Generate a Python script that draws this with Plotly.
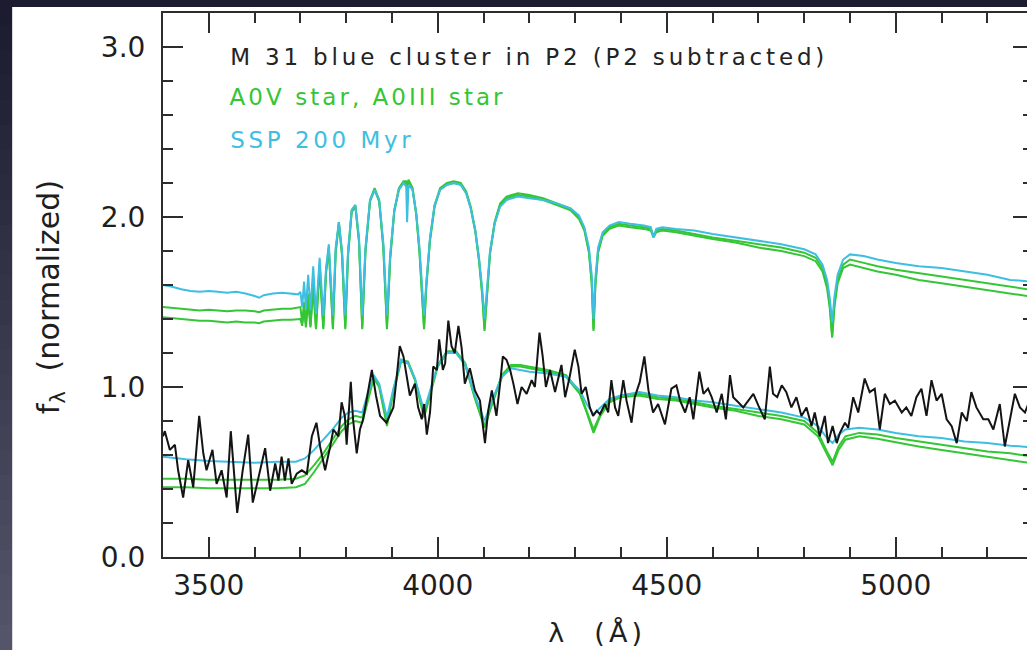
import plotly.graph_objects as go

# ---------------- data ----------------
# Model spectra, upper (offset) set: wavelength grid in Angstrom
top_wave = [3400, 3420, 3440, 3460, 3480, 3500, 3520, 3540, 3560, 3580, 3600, 3610, 3620, 3640, 3660,
            3680, 3695, 3700, 3704, 3708, 3712, 3717, 3722, 3728, 3734, 3742, 3750, 3756, 3762, 3771,
            3777, 3784, 3791, 3798, 3804, 3812, 3820, 3828, 3835, 3842, 3852, 3862, 3872, 3881, 3889,
            3896, 3905, 3915, 3925, 3931, 3933, 3936, 3945, 3953, 3960, 3966, 3970, 3975, 3983, 3993,
            4005, 4020, 4035, 4050, 4062, 4072, 4082, 4090, 4097, 4102, 4107, 4114, 4124, 4136, 4150,
            4175, 4200, 4230, 4260, 4290, 4308, 4320, 4330, 4336, 4340, 4344, 4350, 4360, 4375, 4395,
            4420, 4450, 4465, 4471, 4477, 4490, 4520, 4560, 4600, 4650, 4700, 4750, 4800, 4825, 4840,
            4850, 4856, 4861, 4866, 4873, 4885, 4900, 4930, 4960, 5000, 5050, 5100, 5150, 5200, 5250,
            5300]
top_ssp = [1.60, 1.59, 1.575, 1.565, 1.56, 1.565, 1.56, 1.555, 1.56, 1.55, 1.535, 1.525, 1.54, 1.55, 1.555,
           1.55, 1.545, 1.56, 1.47, 1.62, 1.46, 1.66, 1.45, 1.71, 1.43, 1.76, 1.42, 1.70, 1.84, 1.42,
           1.82, 1.97, 1.80, 1.42, 1.80, 2.04, 2.07, 1.88, 1.42, 1.82, 2.10, 2.16, 2.10, 1.85, 1.42,
           1.78, 2.04, 2.16, 2.20, 2.18, 1.97, 2.19, 2.16, 2.02, 1.82, 1.58, 1.42, 1.62, 1.88, 2.07,
           2.16, 2.19, 2.20, 2.19, 2.14, 2.05, 1.92, 1.76, 1.58, 1.40, 1.58, 1.80, 1.96, 2.06, 2.10,
           2.12, 2.11, 2.10, 2.08, 2.05, 2.01, 1.94, 1.82, 1.66, 1.40, 1.64, 1.82, 1.91, 1.95, 1.97,
           1.96, 1.95, 1.94, 1.88, 1.93, 1.94, 1.93, 1.92, 1.90, 1.88, 1.86, 1.84, 1.81, 1.78, 1.72,
           1.63, 1.52, 1.38, 1.53, 1.66, 1.75, 1.78, 1.77, 1.75, 1.73, 1.71, 1.70, 1.68, 1.66, 1.63,
           1.62]
top_a0v = [1.47, 1.465, 1.46, 1.455, 1.45, 1.455, 1.45, 1.445, 1.45, 1.45, 1.445, 1.44, 1.45, 1.455, 1.46,
           1.46, 1.465, 1.47, 1.38, 1.50, 1.37, 1.55, 1.36, 1.62, 1.35, 1.72, 1.35, 1.68, 1.82, 1.35,
           1.80, 1.97, 1.78, 1.35, 1.78, 2.04, 2.07, 1.86, 1.35, 1.80, 2.10, 2.17, 2.10, 1.83, 1.35,
           1.76, 2.04, 2.17, 2.21, 2.21, 2.17, 2.22, 2.17, 2.02, 1.80, 1.55, 1.35, 1.60, 1.87, 2.07,
           2.17, 2.20, 2.21, 2.20, 2.15, 2.06, 1.92, 1.75, 1.55, 1.34, 1.55, 1.79, 1.97, 2.08, 2.12,
           2.14, 2.13, 2.11, 2.08, 2.05, 2.00, 1.93, 1.80, 1.62, 1.34, 1.60, 1.80, 1.90, 1.94, 1.96,
           1.95, 1.94, 1.93, 1.89, 1.92, 1.93, 1.92, 1.90, 1.88, 1.86, 1.84, 1.82, 1.79, 1.76, 1.70,
           1.60, 1.48, 1.30, 1.49, 1.63, 1.72, 1.75, 1.73, 1.71, 1.69, 1.67, 1.65, 1.63, 1.61, 1.59,
           1.57]
top_a0iii = [1.41, 1.405, 1.40, 1.395, 1.39, 1.39, 1.385, 1.38, 1.385, 1.38, 1.38, 1.375, 1.385, 1.39, 1.395,
             1.395, 1.40, 1.40, 1.36, 1.46, 1.35, 1.50, 1.35, 1.58, 1.34, 1.70, 1.34, 1.67, 1.81, 1.34,
             1.79, 1.96, 1.77, 1.34, 1.77, 2.03, 2.06, 1.85, 1.34, 1.79, 2.09, 2.16, 2.09, 1.82, 1.34,
             1.75, 2.03, 2.16, 2.20, 2.20, 2.16, 2.21, 2.16, 2.01, 1.79, 1.54, 1.34, 1.59, 1.86, 2.06,
             2.16, 2.19, 2.20, 2.19, 2.14, 2.05, 1.91, 1.74, 1.54, 1.33, 1.54, 1.78, 1.96, 2.07, 2.11,
             2.13, 2.12, 2.10, 2.07, 2.04, 1.99, 1.92, 1.79, 1.61, 1.33, 1.59, 1.79, 1.89, 1.93, 1.95,
             1.94, 1.93, 1.92, 1.88, 1.91, 1.92, 1.91, 1.89, 1.87, 1.85, 1.82, 1.80, 1.77, 1.74, 1.68,
             1.58, 1.46, 1.29, 1.47, 1.61, 1.70, 1.72, 1.70, 1.68, 1.66, 1.63, 1.61, 1.59, 1.57, 1.55,
             1.53]

# Model spectra degraded to the cluster resolution (lower set)
low_wave = [3400, 3450, 3500, 3550, 3600, 3650, 3690, 3710, 3730, 3750, 3770, 3790, 3805, 3820, 3835,
            3848, 3860, 3872, 3889, 3903, 3920, 3935, 3950, 3970, 3985, 4000, 4020, 4040, 4060, 4080,
            4102, 4120, 4140, 4160, 4180, 4200, 4240, 4280, 4310, 4325, 4340, 4355, 4375, 4400, 4440,
            4480, 4520, 4560, 4600, 4650, 4700, 4750, 4800, 4830, 4850, 4862, 4875, 4890, 4920, 4960,
            5000, 5050, 5100, 5150, 5200, 5250, 5300]
low_ssp = [0.59, 0.575, 0.565, 0.56, 0.555, 0.56, 0.56, 0.58, 0.63, 0.69, 0.75, 0.82, 0.85, 0.86, 0.85,
           0.97, 1.07, 1.02, 0.82, 0.99, 1.16, 1.14, 1.05, 0.86, 0.99, 1.13, 1.20, 1.20, 1.13, 0.96,
           0.80, 0.93, 1.06, 1.11, 1.10, 1.09, 1.08, 1.06, 0.98, 0.90, 0.84, 0.88, 0.93, 0.95, 0.97,
           0.95, 0.94, 0.92, 0.91, 0.89, 0.87, 0.85, 0.82, 0.77, 0.70, 0.67, 0.72, 0.75, 0.76, 0.75,
           0.73, 0.71, 0.70, 0.68, 0.67, 0.655, 0.645]
low_a0v = [0.46, 0.46, 0.455, 0.455, 0.455, 0.455, 0.46, 0.48, 0.54, 0.61, 0.69, 0.77, 0.81, 0.83, 0.82,
           0.95, 1.06, 1.01, 0.79, 0.98, 1.16, 1.15, 1.05, 0.84, 0.98, 1.13, 1.21, 1.21, 1.14, 0.95,
           0.77, 0.92, 1.07, 1.13, 1.13, 1.12, 1.10, 1.07, 0.97, 0.86, 0.75, 0.84, 0.92, 0.95, 0.96,
           0.94, 0.93, 0.91, 0.89, 0.87, 0.85, 0.83, 0.80, 0.73, 0.62, 0.56, 0.65, 0.71, 0.73, 0.72,
           0.70, 0.68, 0.66, 0.64, 0.62, 0.61, 0.59]
low_a0iii = [0.41, 0.41, 0.405, 0.405, 0.405, 0.405, 0.41, 0.43, 0.50, 0.58, 0.66, 0.74, 0.78, 0.80, 0.79,
             0.93, 1.05, 1.00, 0.77, 0.97, 1.15, 1.14, 1.04, 0.82, 0.97, 1.12, 1.20, 1.20, 1.13, 0.94,
             0.76, 0.91, 1.06, 1.12, 1.12, 1.11, 1.09, 1.06, 0.96, 0.85, 0.73, 0.83, 0.91, 0.94, 0.95,
             0.93, 0.92, 0.90, 0.88, 0.86, 0.83, 0.81, 0.78, 0.71, 0.60, 0.54, 0.63, 0.69, 0.71, 0.695,
             0.675, 0.65, 0.63, 0.61, 0.59, 0.57, 0.55]

# Observed cluster spectrum (P2 subtracted)
cluster_wave = [3400, 3404, 3415, 3426, 3433, 3444, 3455, 3466, 3479, 3488, 3495, 3508, 3517, 3528, 3539,
                3548, 3557, 3562, 3574, 3586, 3596, 3608, 3623, 3634, 3645, 3652, 3659, 3666, 3674, 3681,
                3692, 3703, 3714, 3725, 3735, 3743, 3754, 3765, 3772, 3783, 3790, 3797, 3801, 3810, 3815,
                3823, 3830, 3837, 3848, 3856, 3865, 3874, 3888, 3903, 3910, 3917, 3925, 3932, 3939, 3950,
                3957, 3965, 3970, 3976, 3983, 3990, 3998, 4003, 4011, 4016, 4023, 4030, 4037, 4045, 4052,
                4059, 4070, 4081, 4092, 4103, 4110, 4118, 4128, 4136, 4142, 4150, 4158, 4165, 4174, 4183,
                4194, 4205, 4212, 4222, 4229, 4236, 4245, 4256, 4270, 4278, 4288, 4299, 4307, 4314, 4323,
                4332, 4339, 4347, 4354, 4365, 4372, 4379, 4387, 4394, 4405, 4412, 4423, 4430, 4441, 4451,
                4460, 4470, 4481, 4496, 4510, 4521, 4529, 4540, 4550, 4558, 4571, 4580, 4590, 4598, 4609,
                4620, 4629, 4638, 4645, 4656, 4667, 4678, 4689, 4700, 4714, 4725, 4732, 4741, 4751, 4761,
                4772, 4783, 4794, 4805, 4816, 4823, 4834, 4845, 4852, 4862, 4871, 4878, 4889, 4896, 4907,
                4918, 4932, 4943, 4954, 4965, 4976, 4987, 4998, 5013, 5023, 5034, 5045, 5056, 5067, 5078,
                5089, 5100, 5111, 5122, 5133, 5144, 5155, 5165, 5176, 5191, 5202, 5213, 5227, 5238, 5249,
                5260, 5271, 5282, 5292]
cluster_flux = [0.71, 0.74, 0.63, 0.66, 0.51, 0.35, 0.57, 0.41, 0.83, 0.61, 0.51, 0.63, 0.43, 0.51, 0.35,
                0.74, 0.43, 0.26, 0.51, 0.72, 0.32, 0.47, 0.64, 0.39, 0.55, 0.45, 0.59, 0.45, 0.58, 0.43,
                0.49, 0.51, 0.49, 0.71, 0.79, 0.65, 0.51, 0.65, 0.75, 0.71, 0.91, 0.83, 0.66, 1.03, 0.81,
                0.61, 0.75, 0.81, 0.98, 1.10, 0.95, 0.83, 0.79, 0.88, 1.05, 1.24, 1.18, 1.06, 0.95, 1.02,
                0.88, 0.81, 0.90, 0.72, 0.85, 1.12, 1.10, 1.28, 1.10, 1.14, 1.39, 1.24, 1.20, 1.36, 1.23,
                1.02, 1.11, 0.98, 0.92, 0.67, 0.86, 0.98, 0.83, 1.02, 1.18, 1.16, 1.10, 1.02, 0.90, 1.00,
                0.96, 1.04, 1.00, 1.32, 1.18, 1.00, 1.10, 0.97, 1.13, 0.94, 1.06, 1.22, 1.12, 0.96, 1.00,
                0.88, 0.83, 0.86, 0.84, 0.90, 0.85, 1.04, 0.88, 0.83, 1.04, 0.92, 0.79, 0.94, 1.03, 1.18,
                0.98, 0.85, 0.90, 0.78, 0.99, 1.01, 0.92, 0.85, 0.94, 0.81, 1.09, 0.96, 0.99, 0.94, 0.85,
                0.96, 0.81, 1.07, 0.94, 0.91, 0.88, 0.92, 0.96, 0.89, 0.81, 1.12, 0.96, 0.94, 1.01, 0.97,
                0.88, 0.94, 0.83, 0.88, 0.77, 0.85, 0.71, 0.83, 0.67, 0.77, 0.67, 0.73, 0.79, 0.76, 0.94,
                0.85, 1.05, 0.97, 0.99, 0.75, 0.96, 0.90, 0.92, 0.85, 0.88, 0.83, 0.94, 0.99, 0.83, 1.04,
                0.92, 0.96, 0.81, 0.77, 0.67, 0.85, 0.80, 0.97, 0.88, 0.81, 0.81, 0.75, 0.90, 0.65, 0.81,
                0.96, 0.88, 0.85, 0.92]

legend_lines = ["M 31 blue cluster in P2 (P2 subtracted)", "A0V star, A0III star", "SSP 200 Myr"]
x_title = "λ  (Å)"
y_title = "f<sub>λ</sub>  (normalized)"

# ---------------- style ----------------
GREEN = "rgb(52,198,52)"
CYAN = "rgb(62,190,224)"
BLACK = "rgb(20,20,20)"
AXIS = "rgb(45,45,45)"
FONT = "DejaVu Sans"

FIG_W, FIG_H = 1027, 650
M_L, M_R, M_T, M_B = 163, 0, 13, 93
PW, PH = FIG_W - M_L - M_R, FIG_H - M_T - M_B


def px_x(px):
    return (px - M_L) / PW


def px_y(py):
    return 1 - (py - M_T) / PH


fig = go.Figure()

model_sets = [(top_wave, top_a0iii, GREEN), (top_wave, top_a0v, GREEN), (top_wave, top_ssp, CYAN),
              (low_wave, low_a0iii, GREEN), (low_wave, low_a0v, GREEN), (low_wave, low_ssp, CYAN)]
for wave, vals, col in model_sets:
    fig.add_trace(go.Scatter(x=wave, y=vals, mode="lines", line=dict(color=col, width=2),
                             showlegend=False, hoverinfo="skip"))

# the observed spectrum also carries the right-hand tick frame (same y range)
fig.add_trace(go.Scatter(x=cluster_wave, y=cluster_flux, mode="lines", yaxis="y2",
                         line=dict(color=BLACK, width=2), showlegend=False, hoverinfo="skip"))

tickfont = dict(family=FONT, size=28, color="rgb(30,30,30)")
fig.update_layout(
    width=FIG_W, height=FIG_H,
    margin=dict(l=M_L, r=M_R, t=M_T, b=M_B, pad=0),
    paper_bgcolor="white", plot_bgcolor="white",
    xaxis=dict(range=[3400, 3400 + PW / 0.458], showgrid=False, zeroline=False,
               showline=True, linecolor=AXIS, linewidth=2, mirror="ticks",
               ticks="inside", ticklen=20, tickwidth=2, tickcolor=AXIS,
               tick0=0, dtick=500, tickfont=tickfont, ticklabelstandoff=2,
               minor=dict(ticks="inside", ticklen=10, tickwidth=2, tickcolor=AXIS, dtick=100, showgrid=False)),
    yaxis=dict(range=[0, 3.2], showgrid=False, zeroline=False,
               showline=True, linecolor=AXIS, linewidth=2, mirror=False,
               ticks="inside", ticklen=20, tickwidth=2, tickcolor=AXIS,
               tick0=0, dtick=1, tickformat=".1f", tickfont=tickfont, ticklabelstandoff=10,
               minor=dict(ticks="inside", ticklen=10, tickwidth=2, tickcolor=AXIS, dtick=0.2, showgrid=False)),
    yaxis2=dict(range=[0, 3.2], overlaying="y", side="right", showgrid=False, zeroline=False,
                showline=False, showticklabels=False,
                ticks="inside", ticklen=14, tickwidth=2, tickcolor=AXIS, tick0=0, dtick=1,
                minor=dict(ticks="inside", ticklen=4, tickwidth=2, tickcolor=AXIS, dtick=0.2, showgrid=False)),
)

# dark slide background around the white panel
shapes = [dict(type="rect", xref="paper", yref="paper", x0=px_x(0), x1=px_x(FIG_W), y0=px_y(7), y1=px_y(0),
               fillcolor="rgb(28,28,48)", line_width=0, layer="below")]
n_bands = 26
for i in range(n_bands):
    t = i / (n_bands - 1)
    r = int(28 + t * (84 - 28))
    g = int(28 + t * (84 - 28))
    b = int(48 + t * (106 - 48))
    y_top = i * FIG_H / n_bands
    shapes.append(dict(type="rect", xref="paper", yref="paper", x0=px_x(0), x1=px_x(12),
                       y0=px_y(y_top + FIG_H / n_bands + 1), y1=px_y(y_top),
                       fillcolor=f"rgb({r},{g},{b})", line_width=0, layer="below"))
shapes.append(dict(type="line", xref="paper", yref="paper", x0=px_x(12.5), x1=px_x(12.5), y0=px_y(FIG_H), y1=px_y(7),
                   line=dict(color="rgb(215,215,220)", width=1)))
fig.update_layout(shapes=shapes)

annotations = [
    dict(text=legend_lines[0], x=px_x(529), y=px_y(57), font=dict(family=FONT, size=23, color="rgb(35,35,35)")),
    dict(text=legend_lines[1], x=px_x(368), y=px_y(97), font=dict(family=FONT, size=23, color=GREEN)),
    dict(text=legend_lines[2], x=px_x(322), y=px_y(140), font=dict(family=FONT, size=23, color=CYAN)),
    dict(text=y_title, x=px_x(50), y=px_y(297), textangle=-90, font=dict(family=FONT, size=30, color="rgb(30,30,30)")),
    dict(text=x_title, x=px_x(597), y=px_y(632), font=dict(family=FONT, size=27, color="rgb(30,30,30)")),
]
for a in annotations:
    a.update(xref="paper", yref="paper", xanchor="center", yanchor="middle", showarrow=False)
fig.update_layout(annotations=annotations)

# the plot's lettering is widely tracked; spread each label to its printed length
label_widths = [598, 276, 184, 235, 98]
post = """
var gd = document.getElementById('{plot_id}');
var widths = %s;
gd.querySelectorAll('.annotation-text').forEach(function(el, i) {
  var w = widths[i];
  if (!w) return;
  el.style.letterSpacing = '0px';
  var n = el.textContent.length;
  var nat = el.getComputedTextLength();
  el.style.letterSpacing = ((w - nat) / n) + 'px';
});
""" % str(label_widths)

fig.write_html("out.html", post_script=post)
